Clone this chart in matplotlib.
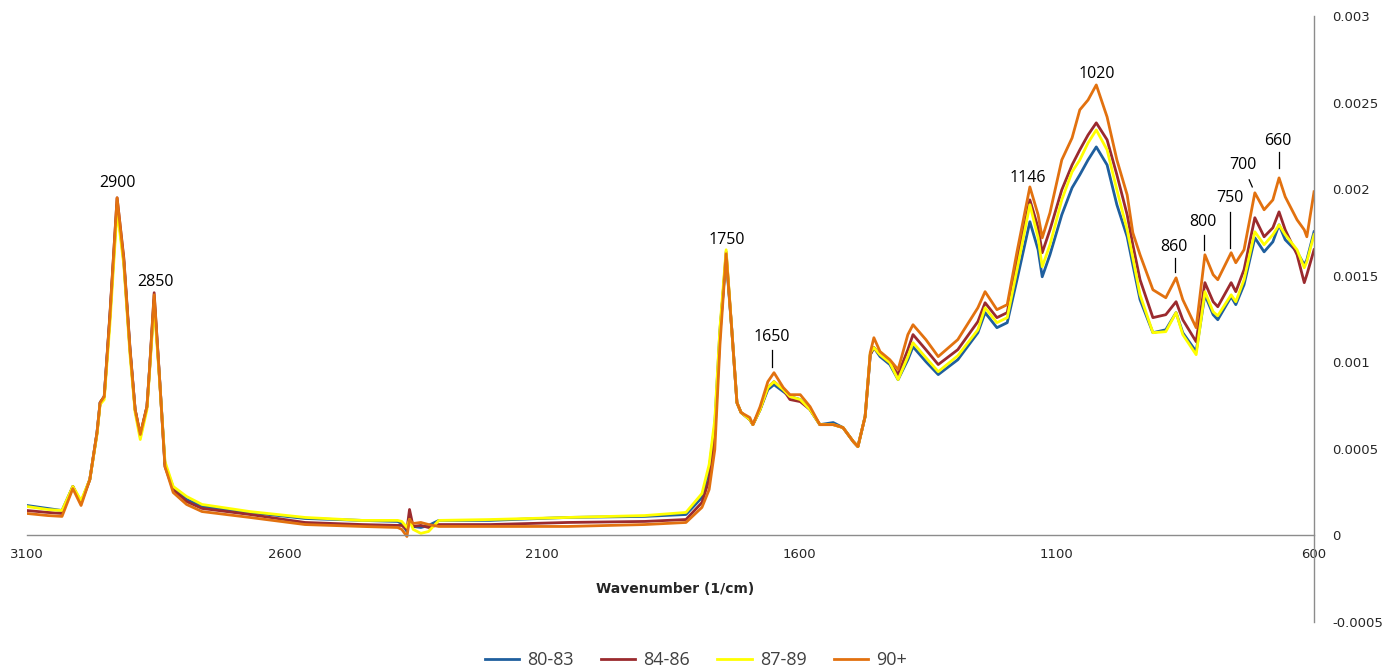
"""
FTIR spectra by age group (3100 - 600 1/cm), absorbance on the right axis.
"""

import numpy as np
import matplotlib.pyplot as plt

# wavenumber grid (1/cm)
wavenumber = [3100, 3060, 3032, 3011, 2995, 2978, 2964, 2958, 2950, 2939, 2925, 2912, 2900, 2890, 2880,
              2867, 2862, 2853, 2842, 2832, 2816, 2790, 2760, 2667, 2560, 2450, 2380, 2372, 2362, 2357,
              2350, 2335, 2320, 2300, 2200, 2050, 1900, 1820, 1789, 1775, 1764, 1754, 1742, 1731, 1721,
              1713, 1696, 1690, 1676, 1661, 1649, 1631, 1618, 1598, 1579, 1560, 1534, 1515, 1495, 1486,
              1472, 1462, 1455, 1443, 1424, 1408, 1389, 1379, 1354, 1330, 1292, 1253, 1239, 1216, 1196,
              1177, 1152, 1136, 1128, 1113, 1090, 1070, 1055, 1039, 1023, 1002, 983, 963, 952, 938,
              913, 888, 868, 855, 829, 812, 796, 787, 761, 752, 736, 715, 697, 680, 668,
              656, 633, 619, 614, 600]

abs_80_83 = [0.173e-3, 0.156e-3, 0.144e-3, 0.283e-3, 0.190e-3, 0.323e-3, 0.594e-3, 0.767e-3, 0.802e-3, 1.263e-3,
             1.910e-3, 1.581e-3, 1.073e-3, 0.727e-3, 0.571e-3, 0.744e-3, 0.958e-3, 1.362e-3, 0.883e-3, 0.410e-3,
             0.277e-3, 0.208e-3, 0.167e-3, 0.133e-3, 0.098e-3, 0.087e-3, 0.081e-3, 0.069e-3, 0.023e-3, 0.092e-3,
             0.052e-3, 0.046e-3, 0.058e-3, 0.087e-3, 0.087e-3, 0.104e-3, 0.110e-3, 0.121e-3, 0.219e-3, 0.381e-3,
             0.640e-3, 1.188e-3, 1.604e-3, 1.188e-3, 0.767e-3, 0.710e-3, 0.669e-3, 0.640e-3, 0.727e-3, 0.842e-3,
             0.871e-3, 0.831e-3, 0.802e-3, 0.785e-3, 0.727e-3, 0.640e-3, 0.652e-3, 0.623e-3, 0.542e-3, 0.513e-3,
             0.687e-3, 1.044e-3, 1.085e-3, 1.033e-3, 0.987e-3, 0.900e-3, 1.015e-3, 1.090e-3, 1.004e-3, 0.929e-3,
             1.015e-3, 1.171e-3, 1.287e-3, 1.200e-3, 1.229e-3, 1.477e-3, 1.812e-3, 1.650e-3, 1.494e-3, 1.621e-3,
             1.852e-3, 2.008e-3, 2.083e-3, 2.169e-3, 2.244e-3, 2.140e-3, 1.910e-3, 1.725e-3, 1.563e-3, 1.362e-3,
             1.171e-3, 1.188e-3, 1.287e-3, 1.171e-3, 1.062e-3, 1.390e-3, 1.275e-3, 1.246e-3, 1.379e-3, 1.333e-3,
             1.448e-3, 1.719e-3, 1.638e-3, 1.696e-3, 1.794e-3, 1.708e-3, 1.638e-3, 1.563e-3, 1.592e-3, 1.754e-3]

abs_84_86 = [0.144e-3, 0.133e-3, 0.127e-3, 0.283e-3, 0.190e-3, 0.323e-3, 0.594e-3, 0.767e-3, 0.802e-3, 1.275e-3,
             1.950e-3, 1.604e-3, 1.085e-3, 0.727e-3, 0.583e-3, 0.744e-3, 0.958e-3, 1.402e-3, 0.883e-3, 0.398e-3,
             0.265e-3, 0.196e-3, 0.156e-3, 0.121e-3, 0.075e-3, 0.063e-3, 0.058e-3, 0.058e-3, 0.035e-3, 0.150e-3,
             0.052e-3, 0.058e-3, 0.046e-3, 0.063e-3, 0.063e-3, 0.075e-3, 0.081e-3, 0.092e-3, 0.190e-3, 0.323e-3,
             0.583e-3, 1.160e-3, 1.638e-3, 1.188e-3, 0.767e-3, 0.710e-3, 0.669e-3, 0.640e-3, 0.727e-3, 0.854e-3,
             0.888e-3, 0.842e-3, 0.785e-3, 0.773e-3, 0.727e-3, 0.640e-3, 0.640e-3, 0.623e-3, 0.542e-3, 0.513e-3,
             0.687e-3, 1.044e-3, 1.085e-3, 1.044e-3, 0.998e-3, 0.929e-3, 1.073e-3, 1.160e-3, 1.073e-3, 0.987e-3,
             1.073e-3, 1.235e-3, 1.344e-3, 1.258e-3, 1.287e-3, 1.581e-3, 1.938e-3, 1.777e-3, 1.633e-3, 1.765e-3,
             1.996e-3, 2.140e-3, 2.227e-3, 2.313e-3, 2.383e-3, 2.285e-3, 2.083e-3, 1.852e-3, 1.679e-3, 1.477e-3,
             1.258e-3, 1.275e-3, 1.350e-3, 1.246e-3, 1.119e-3, 1.460e-3, 1.350e-3, 1.321e-3, 1.460e-3, 1.408e-3,
             1.535e-3, 1.835e-3, 1.725e-3, 1.777e-3, 1.869e-3, 1.765e-3, 1.621e-3, 1.460e-3, 1.506e-3, 1.650e-3]

abs_87_89 = [0.167e-3, 0.150e-3, 0.144e-3, 0.283e-3, 0.202e-3, 0.323e-3, 0.583e-3, 0.756e-3, 0.785e-3, 1.217e-3,
             1.881e-3, 1.563e-3, 1.044e-3, 0.710e-3, 0.554e-3, 0.727e-3, 0.940e-3, 1.333e-3, 0.871e-3, 0.427e-3,
             0.283e-3, 0.225e-3, 0.179e-3, 0.138e-3, 0.104e-3, 0.087e-3, 0.087e-3, 0.081e-3, 0.046e-3, 0.092e-3,
             0.035e-3, 0.012e-3, 0.023e-3, 0.087e-3, 0.092e-3, 0.104e-3, 0.115e-3, 0.133e-3, 0.242e-3, 0.410e-3,
             0.669e-3, 1.200e-3, 1.650e-3, 1.188e-3, 0.767e-3, 0.710e-3, 0.669e-3, 0.640e-3, 0.727e-3, 0.854e-3,
             0.888e-3, 0.842e-3, 0.802e-3, 0.785e-3, 0.727e-3, 0.640e-3, 0.640e-3, 0.623e-3, 0.542e-3, 0.513e-3,
             0.687e-3, 1.056e-3, 1.085e-3, 1.044e-3, 0.998e-3, 0.900e-3, 1.033e-3, 1.113e-3, 1.027e-3, 0.946e-3,
             1.038e-3, 1.188e-3, 1.315e-3, 1.229e-3, 1.258e-3, 1.535e-3, 1.910e-3, 1.719e-3, 1.552e-3, 1.679e-3,
             1.938e-3, 2.100e-3, 2.169e-3, 2.267e-3, 2.342e-3, 2.227e-3, 1.996e-3, 1.765e-3, 1.604e-3, 1.390e-3,
             1.171e-3, 1.177e-3, 1.287e-3, 1.160e-3, 1.044e-3, 1.408e-3, 1.292e-3, 1.269e-3, 1.390e-3, 1.350e-3,
             1.477e-3, 1.754e-3, 1.679e-3, 1.737e-3, 1.794e-3, 1.737e-3, 1.650e-3, 1.546e-3, 1.581e-3, 1.737e-3]

abs_90_plus = [0.127e-3, 0.115e-3, 0.110e-3, 0.271e-3, 0.173e-3, 0.323e-3, 0.594e-3, 0.767e-3, 0.802e-3, 1.263e-3,
               1.950e-3, 1.592e-3, 1.073e-3, 0.727e-3, 0.583e-3, 0.744e-3, 0.958e-3, 1.390e-3, 0.883e-3, 0.398e-3,
               0.248e-3, 0.179e-3, 0.138e-3, 0.104e-3, 0.063e-3, 0.052e-3, 0.046e-3, 0.035e-3, -0.006e-3, 0.092e-3,
               0.069e-3, 0.075e-3, 0.063e-3, 0.052e-3, 0.052e-3, 0.052e-3, 0.063e-3, 0.075e-3, 0.162e-3, 0.265e-3,
               0.496e-3, 1.102e-3, 1.627e-3, 1.188e-3, 0.767e-3, 0.710e-3, 0.681e-3, 0.640e-3, 0.744e-3, 0.888e-3,
               0.940e-3, 0.854e-3, 0.813e-3, 0.813e-3, 0.744e-3, 0.640e-3, 0.640e-3, 0.623e-3, 0.542e-3, 0.513e-3,
               0.687e-3, 1.056e-3, 1.142e-3, 1.062e-3, 1.015e-3, 0.958e-3, 1.160e-3, 1.217e-3, 1.131e-3, 1.033e-3,
               1.131e-3, 1.315e-3, 1.408e-3, 1.304e-3, 1.333e-3, 1.638e-3, 2.013e-3, 1.852e-3, 1.719e-3, 1.863e-3,
               2.169e-3, 2.296e-3, 2.458e-3, 2.515e-3, 2.602e-3, 2.417e-3, 2.169e-3, 1.967e-3, 1.748e-3, 1.621e-3,
               1.419e-3, 1.373e-3, 1.488e-3, 1.362e-3, 1.200e-3, 1.621e-3, 1.506e-3, 1.477e-3, 1.633e-3, 1.575e-3,
               1.650e-3, 1.979e-3, 1.881e-3, 1.938e-3, 2.065e-3, 1.956e-3, 1.823e-3, 1.765e-3, 1.725e-3, 1.985e-3]

group_names = ["80-83", "84-86", "87-89", "90+"]
group_colors = ["#1F5F9E", "#9B2A2E", "#FFFF00", "#E2710F"]

# band labels: (text, text x, text y, marker line or None)
band_labels = [
    ("2900", 2925, 0.002037, None),
    ("2850", 2851, 0.001465, None),
    ("1750", 1740, 0.001708, None),
    ("1650", 1653, 0.001148, ((1653, 1653), (0.001073, 0.000975))),
    ("1146", 1156, 0.002065, None),
    ("1020", 1022, 0.002665, None),
    ("860", 872, 0.001667, ((870, 870), (0.001604, 0.001523))),
    ("800", 816, 0.001812, ((814, 814), (0.001737, 0.00165))),
    ("750", 763, 0.00195, ((763, 763), (0.001869, 0.001662))),
    ("700", 738, 0.00214, ((726, 720), (0.002054, 0.002013))),
    ("660", 670, 0.002279, ((668, 668), (0.002215, 0.002123))),
]

x_ticks = [3100, 2600, 2100, 1600, 1100, 600]
y_ticks = [-0.0005, 0, 0.0005, 0.001, 0.0015, 0.002, 0.0025, 0.003]
y_tick_labels = ["-0.0005", "0", "0.0005", "0.001", "0.0015", "0.002", "0.0025", "0.003"]


fig = plt.figure(figsize=(13.92, 6.70), dpi=100)
ax = fig.add_axes([0.0194, 0.0716, 0.9246, 0.9045])

series = [abs_80_83, abs_84_86, abs_87_89, abs_90_plus]
for values, name, color in zip(series, group_names, group_colors):
    ax.plot(wavenumber, values, color=color, linewidth=2.0, label=name)

ax.set_xlim(3100, 600)
ax.set_ylim(-0.0005, 0.003)

# x axis sits on the zero line, y axis on the right
for side in ["top", "left"]:
    ax.spines[side].set_visible(False)
ax.spines["bottom"].set_position(("data", 0))
ax.spines["bottom"].set_color("#8C8C8C")
ax.spines["right"].set_color("#8C8C8C")
ax.spines["bottom"].set_linewidth(1.0)
ax.spines["right"].set_linewidth(1.0)

ax.set_xticks(x_ticks)
ax.set_xticklabels([str(t) for t in x_ticks])
ax.yaxis.tick_right()
ax.set_yticks(y_ticks)
ax.set_yticklabels(y_tick_labels)
ax.tick_params(axis="x", length=0, pad=9, labelsize=9.5, labelcolor="#262626")
ax.tick_params(axis="y", length=0, pad=13, labelsize=9.5, labelcolor="#262626")

ax.text(1841, -0.000312, "Wavenumber (1/cm)", ha="center", va="center",
        fontsize=10, fontweight="bold", color="#262626")

for text, tx, ty, marker in band_labels:
    ax.text(tx, ty, text, ha="center", va="center", fontsize=11.5,
            family="Open Sans", color="black")
    if marker is not None:
        ax.plot(marker[0], marker[1], color="black", linewidth=0.9)

fig.legend(loc="center", bbox_to_anchor=(0.5, 10 / 670), ncol=4, frameon=False,
           prop={"family": "Open Sans", "size": 13}, labelcolor="#404040",
           handlelength=1.9, handletextpad=0.45, columnspacing=1.5)

fig.savefig("out.png", dpi=100, facecolor="white")
